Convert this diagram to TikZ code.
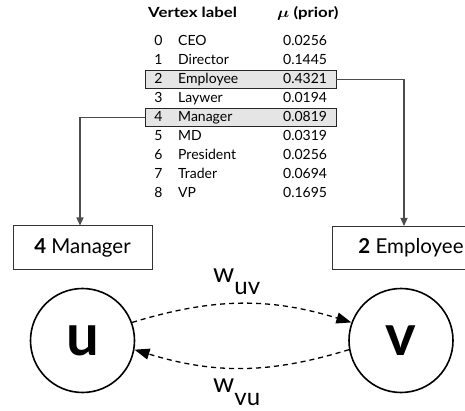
\documentclass[tikz,border=0pt]{standalone}
\usepackage{amsmath,bm}
\usepackage{fontspec}
\setmainfont{Lato}
\usetikzlibrary{arrows.meta}
\begin{document}
\begin{tikzpicture}[x=1pt,y=-1pt,
  tbl/.style={font=\fontsize{14}{14}\selectfont, inner sep=0pt, anchor=base west},
  hdr/.style={font=\fontsize{14}{14}\selectfont\bfseries, inner sep=0pt, anchor=base west},
  hl/.style={draw=black!85, fill=black!10, line width=0.8pt, minimum width=191pt, minimum height=18.5pt, inner sep=0pt},
  conn/.style={draw=black!70, line width=1.2pt, -{Triangle[length=8pt,width=7pt]}},
  lbox/.style={draw=black!80, line width=1pt, minimum height=43pt, inner sep=0pt, font=\fontsize{20.5}{20.5}\selectfont},
  vtx/.style={circle, draw=black, line width=1.6pt, minimum size=104pt, inner sep=0pt, font=\fontsize{58}{58}\selectfont\bfseries},
  flow/.style={dash pattern=on 5pt off 4pt, line width=1.3pt, -{Triangle[length=15pt,width=11pt]}},
  wlab/.style={inner sep=0pt, anchor=base west}
]
\clip (0,0) rectangle (465,411);
% highlight boxes
\node[hl] (hemp) at (240.5,79.2) {};
\node[hl] (hman) at (240.5,117.5) {};
% table header
\node[hdr] (hdra) at (148,18) {\scalebox{1.2}[1]{Vertex label}};
\node[hdr] (hdrb) at (277,18) {\scalebox{1.2}[1]{$\boldsymbol{\mu}$\ (prior)}};
% table rows
\foreach \i/\lab/\val in {0/CEO/0.0256, 1/Director/0.1445, 2/Employee/0.4321, 3/Laywer/0.0194, 4/Manager/0.0819, 5/MD/0.0319, 6/President/0.0256, 7/Trader/0.0694, 8/VP/0.1695}{
  \node[tbl, anchor=base] (idx\i) at (158.5,{45.5+19*\i}) {\i};
  \node[tbl] (lab\i) at (178,{45.5+19*\i}) {\lab};
  \node[tbl] (val\i) at (283,{45.5+19*\i}) {\val};
}
% label boxes
\node[lbox, minimum width=139pt] (man) at (82.5,247.5) {\textbf{4} Manager};
\node[lbox, minimum width=160pt] (emp) at (412,248) {\hspace*{-2pt}\textbf{2} Employee};
% connectors
\coordinate (lx) at (80,0);
\coordinate (rx) at (404,0);
\draw[conn] (hemp.east) -| (rx |- emp.north);
\draw[conn] (hman.west) -| (lx |- man.north);
% vertices
\node[vtx] (u) at (82.5,340.5) {u};
\node[vtx] (v) at (401,340.5) {v};
\draw[flow] (u.20) to[bend left=17] (v.160);
\draw[flow] (v.190) to[bend left=17] (u.350);
% weights
\node[wlab] (wuv) at (213,282) {\fontsize{27}{27}\selectfont w\raisebox{-13pt}{\fontsize{24}{24}\selectfont uv}};
\node[wlab] (wvu) at (213,392) {\fontsize{27}{27}\selectfont w\raisebox{-13pt}{\fontsize{24}{24}\selectfont vu}};
\end{tikzpicture}
\end{document}
